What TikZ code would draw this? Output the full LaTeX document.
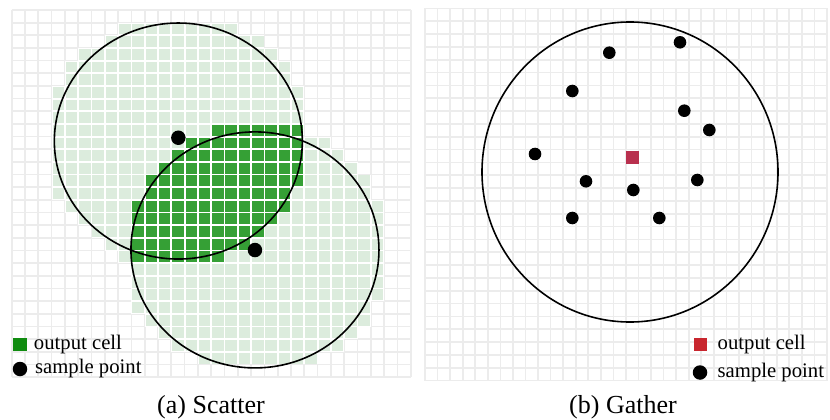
\documentclass[tikz,border=0pt]{standalone}
\usepackage{fontspec}
\setmainfont{Liberation Serif}
\usetikzlibrary{positioning}
\definecolor{gridgray}{RGB}{236,236,236}
\definecolor{cellpale}{RGB}{220,236,221}
\definecolor{celldark}{RGB}{53,160,53}
\definecolor{keygreen}{RGB}{16,140,16}
\definecolor{outred}{RGB}{184,48,78}
\definecolor{keyred}{RGB}{200,38,46}

\begin{document}
\begin{tikzpicture}[x=1pt, y=-1pt]
  \tikzset{gridline/.style={draw=gridgray, line width=1.7pt},
           ring/.style={draw=black, line width=1.6pt},
           sample/.style={circle, fill=black, inner sep=0pt, minimum size=14.5pt},
           keybox/.style={inner sep=0pt, minimum size=13.2pt},
           keytext/.style={inner sep=0pt, font=\fontsize{20.7}{24}\selectfont},
           caption/.style={inner sep=0pt, anchor=base, font=\fontsize{26}{30}\selectfont}}
  \useasboundingbox (0,0) rectangle (830,420);

  % (a) scatter: cells touched by the two splats
  \begin{scope}[shift={(11.7,10)}, x=13.3pt, y=-12.66pt]
    \foreach \i in {0,...,30} \draw[gridline] (\i,0) -- (\i,29);
    \foreach \j in {0,...,29} \draw[gridline] (0,\j) -- (30,\j);
    \foreach \j/\a/\b in {1/8/16, 2/7/18, 3/5/19, 4/4/20, 5/4/20, 6/3/21, 7/3/21,
        8/3/21, 9/3/21, 10/3/23, 11/3/24, 12/3/25, 13/3/26, 14/3/26, 15/4/27,
        16/5/27, 17/6/27, 18/7/27, 19/8/27, 20/9/27, 21/9/27, 22/9/27, 23/9/26,
        24/10/26, 25/11/25, 26/12/24, 27/14/22}
      \foreach \i in {\a,...,\b}
        \fill[white] (\i,\j) rectangle ++(1,1);
    \foreach \j/\a/\b in {1/8/16, 2/7/18, 3/5/19, 4/4/20, 5/4/20, 6/3/21, 7/3/21,
        8/3/21, 9/3/21, 10/3/23, 11/3/24, 12/3/25, 13/3/26, 14/3/26, 15/4/27,
        16/5/27, 17/6/27, 18/7/27, 19/8/27, 20/9/27, 21/9/27, 22/9/27, 23/9/26,
        24/10/26, 25/11/25, 26/12/24, 27/14/22}
      \foreach \i in {\a,...,\b}
        \fill[cellpale] (\i,\j) ++(0.9pt,-0.9pt) rectangle ++(11.5pt,-10.86pt);
    \foreach \j/\a/\b in {9/15/21, 10/13/21, 11/12/21, 12/11/21, 13/10/21,
        14/10/20, 15/9/20, 16/9/19, 17/9/18, 18/9/17, 19/9/15}
      \foreach \i in {\a,...,\b}
        \fill[celldark] (\i,\j) ++(0.9pt,-0.9pt) rectangle ++(11.5pt,-10.86pt);
    \coordinate (ca) at (12.53,10.35);
    \coordinate (cb) at (18.29,18.95);
    \draw[ring] (ca) ellipse[x radius=124pt, y radius=118pt];
    \draw[ring] (cb) ellipse[x radius=124pt, y radius=118pt];
    \node[sample] (pa) at (12.53,10.09) {};
    \node[sample] (pb) at (18.29,18.96) {};
  \end{scope}
  \node[keybox, fill=keygreen] (keya) at (20,344.2) {};
  \node[keytext, right=7pt of keya] (keyatxt) {output cell};
  \node[sample] (keyb) at (20,369) {};
  \node[keytext, right=7.5pt of keyb] (keybtxt) {sample point};
  \node[caption] (capa) at (211,413) {(a) Scatter};

  % (b) gather: one cell reads all samples in its footprint
  \begin{scope}[shift={(425,8.5)}, x=12.56pt, y=-12.83pt]
    \foreach \i in {0,...,32} \draw[gridline] (\i,0) -- (\i,29);
    \foreach \j in {0,...,29} \draw[gridline] (0,\j) -- (32,\j);
  \end{scope}
  \coordinate (cg) at (630,172);
  \draw[ring] (cg) ellipse[x radius=148pt, y radius=150pt];
  \node[keybox, fill=outred, minimum size=12.7pt] (cell) at (632.7,157.3) {};
  \foreach \x/\y [count=\k] in {680/42.3, 609.3/52.7, 572.3/91, 684.3/110.7,
      709.3/130, 535/154, 586/181.3, 633.3/190, 697.3/180, 572.3/218, 659.3/218}
    \node[sample, minimum size=12.6pt] (g\k) at (\x,\y) {};
  \node[keybox, fill=keyred] (keyc) at (700.7,344.2) {};
  \node[keytext, right=10pt of keyc] (keyctxt) {output cell};
  \node[sample] (keyd) at (700,372.5) {};
  \node[keytext, right=10pt of keyd] (keydtxt) {sample point};
  \node[caption] (capb) at (623,413) {(b) Gather};
\end{tikzpicture}
\end{document}
